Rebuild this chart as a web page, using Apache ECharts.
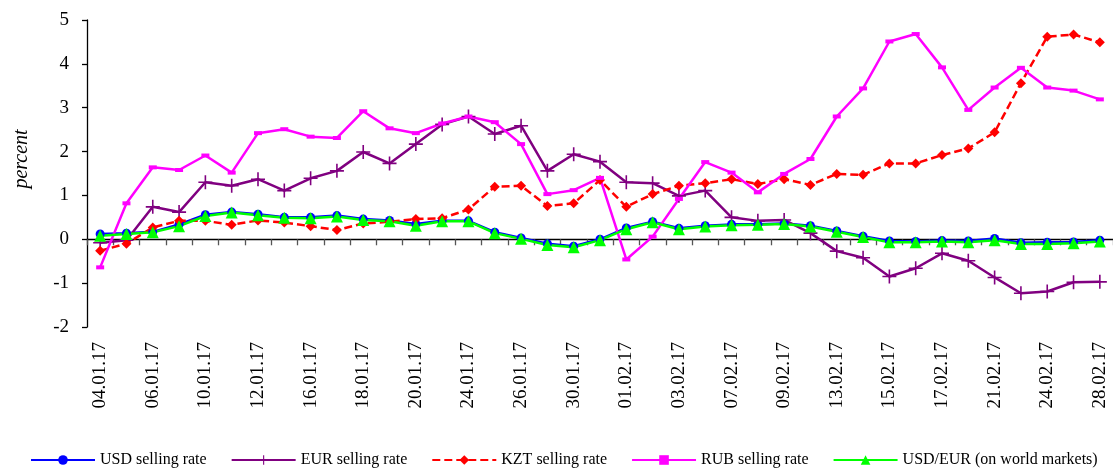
<!DOCTYPE html>
<html>
<head>
<meta charset="utf-8">
<script src="https://cdn.jsdelivr.net/npm/echarts@6/dist/echarts.min.js"></script>
<style>
html,body{margin:0;padding:0;background:#fff;}
#chart{width:1113px;height:468px;}
</style>
</head>
<body>
<div id="chart"></div>
<script>
const dates = ["04.01.17","05.01.17","06.01.17","09.01.17","10.01.17","11.01.17","12.01.17","13.01.17","16.01.17","17.01.17","18.01.17","19.01.17","20.01.17","23.01.17","24.01.17","25.01.17","26.01.17","27.01.17","30.01.17","31.01.17","01.02.17","02.02.17","03.02.17","06.02.17","07.02.17","08.02.17","09.02.17","10.02.17","13.02.17","14.02.17","15.02.17","16.02.17","17.02.17","20.02.17","21.02.17","22.02.17","24.02.17","27.02.17","28.02.17"];
const usd = [0.12,0.14,0.17,0.34,0.56,0.62,0.57,0.50,0.50,0.54,0.46,0.43,0.35,0.42,0.42,0.16,0.03,-0.10,-0.16,0.00,0.26,0.40,0.25,0.31,0.34,0.34,0.36,0.31,0.19,0.07,-0.04,-0.05,-0.03,-0.04,0.02,-0.08,-0.07,-0.06,-0.02];
const eur = [-0.08,-0.02,0.74,0.62,1.30,1.22,1.37,1.11,1.39,1.56,1.99,1.73,2.17,2.62,2.80,2.40,2.59,1.56,1.94,1.77,1.30,1.28,0.99,1.11,0.50,0.42,0.44,0.14,-0.27,-0.42,-0.85,-0.66,-0.32,-0.49,-0.87,-1.23,-1.19,-0.98,-0.97];
const kzt = [-0.26,-0.10,0.27,0.42,0.42,0.33,0.43,0.38,0.30,0.21,0.36,0.40,0.46,0.48,0.68,1.20,1.22,0.76,0.82,1.35,0.74,1.03,1.22,1.28,1.37,1.26,1.37,1.24,1.49,1.47,1.73,1.73,1.92,2.07,2.44,3.56,4.62,4.67,4.49];
const rub = [-0.64,0.82,1.64,1.58,1.91,1.52,2.42,2.51,2.34,2.31,2.92,2.53,2.42,2.64,2.80,2.67,2.17,1.03,1.12,1.40,-0.46,0.06,0.92,1.76,1.52,1.07,1.49,1.83,2.80,3.44,4.51,4.68,3.92,2.95,3.46,3.91,3.46,3.39,3.19];
const usdEur = [0.08,0.12,0.16,0.30,0.53,0.61,0.55,0.49,0.48,0.52,0.44,0.41,0.31,0.41,0.41,0.14,0.01,-0.13,-0.18,-0.02,0.23,0.39,0.23,0.29,0.32,0.33,0.35,0.29,0.17,0.05,-0.07,-0.07,-0.05,-0.07,-0.02,-0.11,-0.11,-0.09,-0.05];
const seriesNames = ["USD selling rate","EUR selling rate","KZT selling rate","RUB selling rate","USD/EUR (on world markets)"];

const FONT = "'Liberation Serif','DejaVu Serif',serif";
const plusPath = 'path://M6.2,0h1.6v14h-1.6z M0,6.2h14v1.6h-14z';

const chart = echarts.init(document.getElementById('chart'), null, {renderer:'canvas'});
chart.setOption({
  animation:false,
  backgroundColor:'#fff',
  grid:{left:87,right:0,top:20,bottom:141,containLabel:false},
  xAxis:[
    {type:'category',data:dates,boundaryGap:true,position:'bottom',
     axisLine:{show:false,onZero:false},axisTick:{show:false},
     axisLabel:{interval:1,rotate:90,margin:15,color:'#000',fontFamily:FONT,fontSize:19},
     splitLine:{show:false}},
    {type:'category',data:dates,boundaryGap:true,position:'bottom',
     axisLine:{show:true,onZero:true,lineStyle:{color:'#000',width:1.3}},
     axisTick:{show:true,interval:0,length:6,inside:false,lineStyle:{color:'#555',width:1.3}},
     axisLabel:{show:false},splitLine:{show:false}}
  ],
  yAxis:{type:'value',min:-2,max:5,interval:1,
    axisLine:{show:true,lineStyle:{color:'#000',width:1.3}},
    axisTick:{show:true,length:5,lineStyle:{color:'#000',width:1.3}},
    axisLabel:{margin:18,color:'#000',fontFamily:FONT,fontSize:19},
    splitLine:{show:false}},
  legend:{left:30,top:452,padding:0,itemWidth:64,itemHeight:12,itemGap:24,
    textStyle:{fontFamily:FONT,fontSize:16,color:'#000'},
    data:seriesNames},
  graphic:[{type:'text',x:22,y:159,rotation:Math.PI/2,
    style:{text:'percent',font:"italic 20px 'Liberation Serif'",fill:'#000',align:'center',verticalAlign:'middle'}}],
  series:[
    {name:seriesNames[0],type:'line',data:usd,symbol:'circle',symbolSize:9,
     lineStyle:{color:'#0000FF',width:2.5},itemStyle:{color:'#0000FF'}},
    {name:seriesNames[1],type:'line',data:eur,symbol:plusPath,symbolSize:14,
     lineStyle:{color:'#800080',width:2.5},itemStyle:{color:'#800080'}},
    {name:seriesNames[2],type:'line',data:kzt,symbol:'diamond',symbolSize:10,
     lineStyle:{color:'#FF0000',width:2.5,type:[8,4]},itemStyle:{color:'#FF0000'}},
    {name:seriesNames[3],type:'line',data:rub,symbol:'rect',symbolSize:[8,4],
     lineStyle:{color:'#FF00FF',width:2.5},itemStyle:{color:'#FF00FF'}},
    {name:seriesNames[4],type:'line',data:usdEur,symbol:'triangle',symbolSize:12,
     lineStyle:{color:'#00FF00',width:2.5},itemStyle:{color:'#00FF00'}}
  ]
});
</script>
</body>
</html>
